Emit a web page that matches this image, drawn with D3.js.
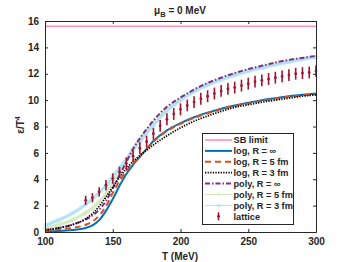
<!DOCTYPE html>
<html>
<head>
<meta charset="utf-8">
<script src="https://cdn.jsdelivr.net/npm/d3@7"></script>
<style>
body{margin:0;background:#fff}
text{font-family:'Liberation Sans',Arial,sans-serif;font-weight:bold;fill:#262626}
</style>
</head>
<body>
<div id="graph"></div>
<script>
"use strict"
// temperature grid of the model curves (MeV)
var tGrid=[100,110,120,130,135,140,145,150,155,160,165,170,175,180,190,200,210,220,230,240,250,260,270,280,290,300]
// eps/T^4 of each model
var logInf=[0.05,0.08,0.15,0.3,0.5,0.9,1.6,2.5,3.5,4.4,5.1,5.7,6.3,6.9,7.7,8.25,8.7,9.05,9.35,9.6,9.8,10.0,10.15,10.3,10.4,10.5]
var log5=[0.12,0.2,0.3,0.55,0.8,1.25,1.95,2.95,3.85,4.6,5.2,5.75,6.3,6.85,7.65,8.2,8.65,9.0,9.3,9.55,9.75,9.95,10.1,10.25,10.35,10.45]
var log3=[0.15,0.3,0.55,1.0,1.4,1.95,2.65,3.4,4.15,4.8,5.35,5.8,6.2,6.6,7.3,7.9,8.4,8.8,9.15,9.45,9.65,9.85,10.0,10.15,10.3,10.4]
var polyInf=[0.15,0.3,0.55,0.95,1.25,1.7,2.35,3.3,4.3,5.3,6.3,7.1,7.8,8.45,9.5,10.2,10.8,11.3,11.7,12.05,12.35,12.6,12.85,13.05,13.2,13.35]
var poly5=[0.3,0.55,0.9,1.45,1.8,2.3,2.9,3.7,4.6,5.45,6.3,7.0,7.65,8.25,9.3,10.05,10.7,11.2,11.6,11.95,12.25,12.5,12.75,12.95,13.15,13.3]
var poly3=[0.5,0.9,1.4,2.1,2.5,3.0,3.5,4.2,4.85,5.5,6.2,6.85,7.5,8.1,9.2,10.0,10.65,11.15,11.55,11.9,12.2,12.45,12.7,12.9,13.1,13.25]
var sbLimit=15.6
// lattice points
var latT=[130,135,140,145,150,155,160,165,170,175,180,185,190,195,200,205,210,215,220,225,230,235,240,245,250,255,260,265,270,275,280,285,290,295,300]
var latE=[2.4,2.6,3.05,3.55,4.05,4.55,5.2,5.75,6.35,6.85,7.45,8.05,8.55,8.95,9.3,9.6,9.85,10.1,10.3,10.5,10.7,10.85,10.95,11.1,11.25,11.4,11.5,11.6,11.7,11.8,11.9,12.0,12.05,12.1,12.2]
var latErr=[0.35,0.35,0.35,0.4,0.4,0.4,0.45,0.45,0.45,0.45,0.45,0.45,0.45,0.45,0.45,0.45,0.45,0.45,0.45,0.45,0.45,0.45,0.45,0.45,0.45,0.45,0.45,0.45,0.45,0.45,0.45,0.45,0.45,0.45,0.45]
var xTicks=[100,150,200,250,300]
var yTicks=[0,2,4,6,8,10,12,14,16]

var W=349,H=262
var L=45,R=316,T=21,B=232
var svg=d3.select('#graph').append('svg').attr('width',W).attr('height',H)
var x=d3.scaleLinear().domain([100,300]).range([L,R])
var y=d3.scaleLinear().domain([0,16]).range([B,T])

function pts(v){
  return tGrid.map(function(t,i){return [t,v[i]]})
}
var line=d3.line().x(function(d){return x(d[0])}).y(function(d){return y(d[1])}).curve(d3.curveMonotoneX)

var plot=svg.append('g')
// light poly bands with markers
var bands=[{v:poly5,c:'#d3e8bd',m:'plus'},{v:poly3,c:'#aee0f4',m:'cross'}]
bands.forEach(function(b){
  plot.append('path').attr('d',line(pts(b.v))).attr('fill','none').attr('stroke',b.c).attr('stroke-width',3.5).attr('opacity',0.8)
  plot.append('path').attr('d',line(pts(b.v))).attr('fill','none').attr('stroke',b.c).attr('stroke-width',1)
  plot.selectAll(null).data(pts(b.v)).enter().append('path')
    .attr('d',b.m=='plus'?d3.symbol().type(d3.symbolPlus||d3.symbolCross).size(14):d3.symbol().type(d3.symbolTimes||d3.symbolX).size(14))
    .attr('transform',function(d){return 'translate('+x(d[0])+','+y(d[1])+')'})
    .attr('fill','none').attr('stroke',b.c).attr('stroke-width',0.8)
})
plot.append('path').attr('d',line(pts(polyInf))).attr('fill','none').attr('stroke','#7e2f8e').attr('stroke-width',2).attr('stroke-dasharray','5,2,1.5,2')
plot.append('path').attr('d',line(pts(logInf))).attr('fill','none').attr('stroke','#0072bd').attr('stroke-width',2)
plot.append('path').attr('d',line(pts(log5))).attr('fill','none').attr('stroke','#d95319').attr('stroke-width',2).attr('stroke-dasharray','6,4')
plot.append('path').attr('d',line(pts(log3))).attr('fill','none').attr('stroke','#000').attr('stroke-width',1.8).attr('stroke-dasharray','1.3,1.3')
// SB limit
plot.append('line').attr('x1',L).attr('x2',R).attr('y1',y(sbLimit)).attr('y2',y(sbLimit)).attr('stroke','#ff8fb3').attr('stroke-width',1.6)

// lattice with error bars
var lat=plot.selectAll('g.lat').data(latT).enter().append('g')
lat.append('line').attr('x1',function(d){return x(d)}).attr('x2',function(d){return x(d)})
  .attr('y1',function(d,i){return y(latE[i]-latErr[i])}).attr('y2',function(d,i){return y(latE[i]+latErr[i])})
  .attr('stroke','#a2142f').attr('stroke-width',1.6)
lat.append('circle').attr('cx',function(d){return x(d)}).attr('cy',function(d,i){return y(latE[i])}).attr('r',1.4).attr('fill','#a2142f')

// axes, ticks inside like matlab
function ax(gen,tr){
  var g=svg.append('g').attr('transform',tr).call(gen)
  g.select('.domain').attr('stroke','#262626').attr('stroke-width',1)
  g.selectAll('.tick line').attr('stroke','#262626')
  g.selectAll('text').attr('font-size',10).attr('font-weight','bold').attr('fill','#262626').attr('font-family',"'Liberation Sans',Arial,sans-serif")
  return g
}
ax(d3.axisBottom(x).tickValues(xTicks).tickSize(-3).tickPadding(6).tickSizeOuter(0),'translate(0,'+B+')')
ax(d3.axisTop(x).tickValues(xTicks).tickSize(-3).tickFormat('').tickSizeOuter(0),'translate(0,'+T+')')
ax(d3.axisLeft(y).tickValues(yTicks).tickSize(-3).tickPadding(6).tickSizeOuter(0),'translate('+L+',0)')
ax(d3.axisRight(y).tickValues(yTicks).tickSize(-3).tickFormat('').tickSizeOuter(0),'translate('+R+',0)')

// titles
var ttl=svg.append('text').attr('x',180).attr('y',14).attr('text-anchor','middle').attr('font-size',10)
ttl.append('tspan').text('μ')
ttl.append('tspan').attr('font-size',7.5).attr('dy',2.5).text('B')
ttl.append('tspan').attr('dy',-2.5).text(' = 0 MeV')
svg.append('text').attr('x',180).attr('y',260).attr('text-anchor','middle').attr('font-size',10).text('T (MeV)')
var yl=svg.append('text').attr('transform','translate(24,125)rotate(-90)').attr('text-anchor','middle').attr('font-size',10)
yl.append('tspan').text('ε/T')
yl.append('tspan').attr('font-size',7).attr('dy',-4).text('4')

// legend
var lg=svg.append('g')
lg.append('rect').attr('x',202.5).attr('y',133.5).attr('width',91).attr('height',91).attr('fill','#fff').attr('stroke','#262626').attr('stroke-width',1)
var items=[
  {t:'SB limit',c:'#ff8fb3',w:1.6,d:null},
  {t:'log, R = ∞',c:'#0072bd',w:2,d:null},
  {t:'log, R = 5 fm',c:'#d95319',w:2,d:'6,4'},
  {t:'log, R = 3 fm',c:'#000',w:1.8,d:'1.3,1.3'},
  {t:'poly, R = ∞',c:'#7e2f8e',w:2,d:'5,2,1.5,2'},
  {t:'poly, R = 5 fm',c:'#d3e8bd',w:1,d:null,m:'+'},
  {t:'poly, R = 3 fm',c:'#aee0f4',w:1,d:null,m:'×'},
  {t:'lattice',c:'#a2142f',e:true}
]
items.forEach(function(it,i){
  var yy=140+i*10.9
  if(it.e){
    lg.append('line').attr('x1',218.5).attr('x2',218.5).attr('y1',yy-4).attr('y2',yy+4).attr('stroke',it.c).attr('stroke-width',1.6)
    lg.append('circle').attr('cx',218.5).attr('cy',yy).attr('r',1.4).attr('fill',it.c)
  }else{
    var l=lg.append('line').attr('x1',205).attr('x2',232).attr('y1',yy).attr('y2',yy).attr('stroke',it.c).attr('stroke-width',it.w)
    if(it.d)l.attr('stroke-dasharray',it.d)
    if(it.m)lg.append('text').attr('x',218.5).attr('y',yy+2.5).attr('text-anchor','middle').attr('font-size',7).style('fill',it.c).text(it.m)
  }
  lg.append('text').attr('x',233.5).attr('y',yy+3.3).attr('font-size',9.2).text(it.t)
})
</script>
</body>
</html>
